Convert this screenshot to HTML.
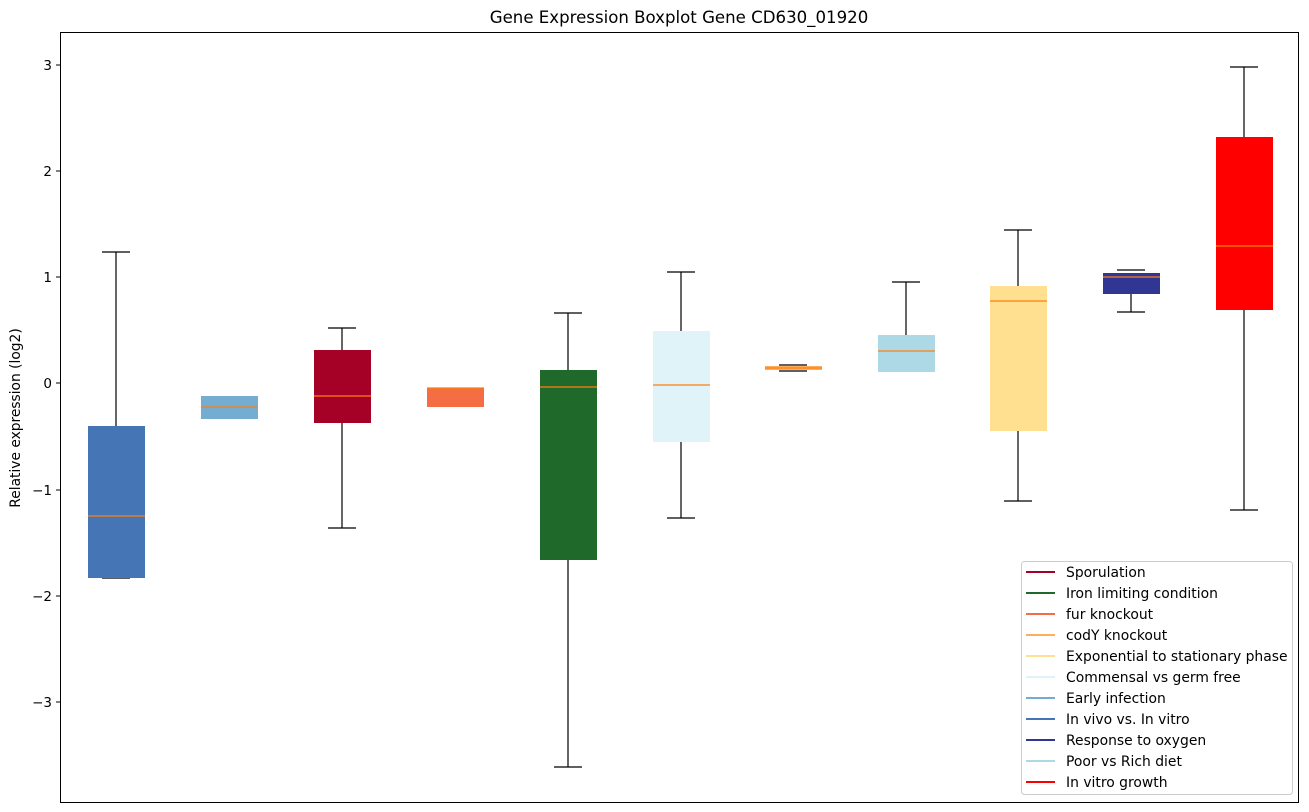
<!DOCTYPE html><html><head><meta charset="utf-8"><style>body{margin:0;background:#fff}svg{display:block;font-family:"DejaVu Sans","Liberation Sans",sans-serif}</style></head><body>
<svg width="1309" height="812" xmlns="http://www.w3.org/2000/svg">
<rect width="1309" height="812" fill="#fff"/>
<text x="679" y="23" font-size="16.6" text-anchor="middle">Gene Expression Boxplot Gene CD630_01920</text>
<g stroke="#000" stroke-width="1.2" fill="none">
<line x1="116" y1="252" x2="116" y2="426"/><line x1="102" y1="252" x2="130" y2="252"/><line x1="102" y1="578" x2="130" y2="578"/>
<line x1="342" y1="328" x2="342" y2="350"/><line x1="342" y1="423" x2="342" y2="528"/><line x1="328" y1="328" x2="356" y2="328"/><line x1="328" y1="528" x2="356" y2="528"/>
<line x1="568" y1="313" x2="568" y2="370"/><line x1="568" y1="560" x2="568" y2="767"/><line x1="554" y1="313" x2="582" y2="313"/><line x1="554" y1="767" x2="582" y2="767"/>
<line x1="681" y1="272" x2="681" y2="331"/><line x1="681" y1="442" x2="681" y2="518"/><line x1="667" y1="272" x2="695" y2="272"/><line x1="667" y1="518" x2="695" y2="518"/>
<line x1="779" y1="365" x2="807" y2="365"/><line x1="779" y1="371" x2="807" y2="371"/>
<line x1="906" y1="282" x2="906" y2="335"/><line x1="892" y1="282" x2="920" y2="282"/>
<line x1="1018" y1="230" x2="1018" y2="286"/><line x1="1018" y1="431" x2="1018" y2="501"/><line x1="1004" y1="230" x2="1032" y2="230"/><line x1="1004" y1="501" x2="1032" y2="501"/>
<line x1="1131" y1="294" x2="1131" y2="312"/><line x1="1117" y1="270" x2="1145" y2="270"/><line x1="1117" y1="312" x2="1145" y2="312"/>
<line x1="1244" y1="67" x2="1244" y2="137"/><line x1="1244" y1="310" x2="1244" y2="510"/><line x1="1230" y1="67" x2="1258" y2="67"/><line x1="1230" y1="510" x2="1258" y2="510"/>
</g>
<g>
<rect x="88" y="426" width="57" height="152" fill="#4575b4"/>
<rect x="201" y="396" width="57" height="23" fill="#74add1"/>
<rect x="314" y="350" width="57" height="73" fill="#a50026"/>
<rect x="427" y="388" width="57" height="19" fill="#f46d43"/>
<rect x="540" y="370" width="57" height="190" fill="#1f6a2a"/>
<rect x="653" y="331" width="57" height="111" fill="#e0f3f8"/>
<rect x="765" y="366" width="57" height="4" fill="#fdae61"/>
<rect x="878" y="335" width="57" height="37" fill="#add8e6"/>
<rect x="990" y="286" width="57" height="145" fill="#fee090"/>
<rect x="1103" y="273" width="57" height="21" fill="#313695"/>
<rect x="1216" y="137" width="57" height="173" fill="#ff0000"/>
</g>
<g stroke="#ff7f0e" stroke-width="1.2">
<line x1="88" y1="516" x2="145" y2="516"/><line x1="201" y1="407" x2="258" y2="407"/><line x1="314" y1="396" x2="371" y2="396"/><line x1="427" y1="388" x2="484" y2="388"/><line x1="540" y1="387" x2="597" y2="387"/><line x1="653" y1="385" x2="710" y2="385"/><line x1="765" y1="368" x2="822" y2="368"/><line x1="878" y1="351" x2="935" y2="351"/><line x1="990" y1="301" x2="1047" y2="301"/><line x1="1103" y1="277" x2="1160" y2="277"/><line x1="1216" y1="246" x2="1273" y2="246"/>
</g>
<rect x="60.5" y="32.5" width="1238" height="770" fill="none" stroke="#000" stroke-width="1"/>
<g stroke="#000">
<line x1="56" y1="65" x2="60" y2="65"/><line x1="56" y1="171" x2="60" y2="171"/><line x1="56" y1="277" x2="60" y2="277"/><line x1="56" y1="383" x2="60" y2="383"/><line x1="56" y1="490" x2="60" y2="490"/><line x1="56" y1="596" x2="60" y2="596"/><line x1="56" y1="702" x2="60" y2="702"/>
</g>
<g font-size="13.5" text-anchor="end">
<text x="52" y="70">3</text><text x="52" y="176">2</text><text x="52" y="282">1</text><text x="52" y="388">0</text><text x="52" y="495">−1</text><text x="52" y="601">−2</text><text x="52" y="707">−3</text>
</g>
<text transform="translate(20,418) rotate(-90)" font-size="13.8" text-anchor="middle">Relative expression (log2)</text>
<rect x="1021.5" y="561.5" width="271" height="233" rx="3" fill="#fff" fill-opacity="0.8" stroke="#ccc"/>
<g stroke-width="2">
<line x1="1026" y1="572" x2="1055" y2="572" stroke="#a50026"/>
<line x1="1026" y1="593" x2="1055" y2="593" stroke="#1f6a2a"/>
<line x1="1026" y1="614" x2="1055" y2="614" stroke="#f46d43"/>
<line x1="1026" y1="635" x2="1055" y2="635" stroke="#fdae61"/>
<line x1="1026" y1="656" x2="1055" y2="656" stroke="#fee090"/>
<line x1="1026" y1="677" x2="1055" y2="677" stroke="#e0f3f8"/>
<line x1="1026" y1="698" x2="1055" y2="698" stroke="#74add1"/>
<line x1="1026" y1="719" x2="1055" y2="719" stroke="#4575b4"/>
<line x1="1026" y1="740" x2="1055" y2="740" stroke="#313695"/>
<line x1="1026" y1="761" x2="1055" y2="761" stroke="#add8e6"/>
<line x1="1026" y1="782" x2="1055" y2="782" stroke="#ff0000"/>
</g>
<g font-size="13.9">
<text x="1066" y="577">Sporulation</text>
<text x="1066" y="598">Iron limiting condition</text>
<text x="1066" y="619">fur knockout</text>
<text x="1066" y="640">codY knockout</text>
<text x="1066" y="661">Exponential to stationary phase</text>
<text x="1066" y="682">Commensal vs germ free</text>
<text x="1066" y="703">Early infection</text>
<text x="1066" y="724">In vivo vs. In vitro</text>
<text x="1066" y="745">Response to oxygen</text>
<text x="1066" y="766">Poor vs Rich diet</text>
<text x="1066" y="787">In vitro growth</text>
</g>
</svg>
</body></html>
